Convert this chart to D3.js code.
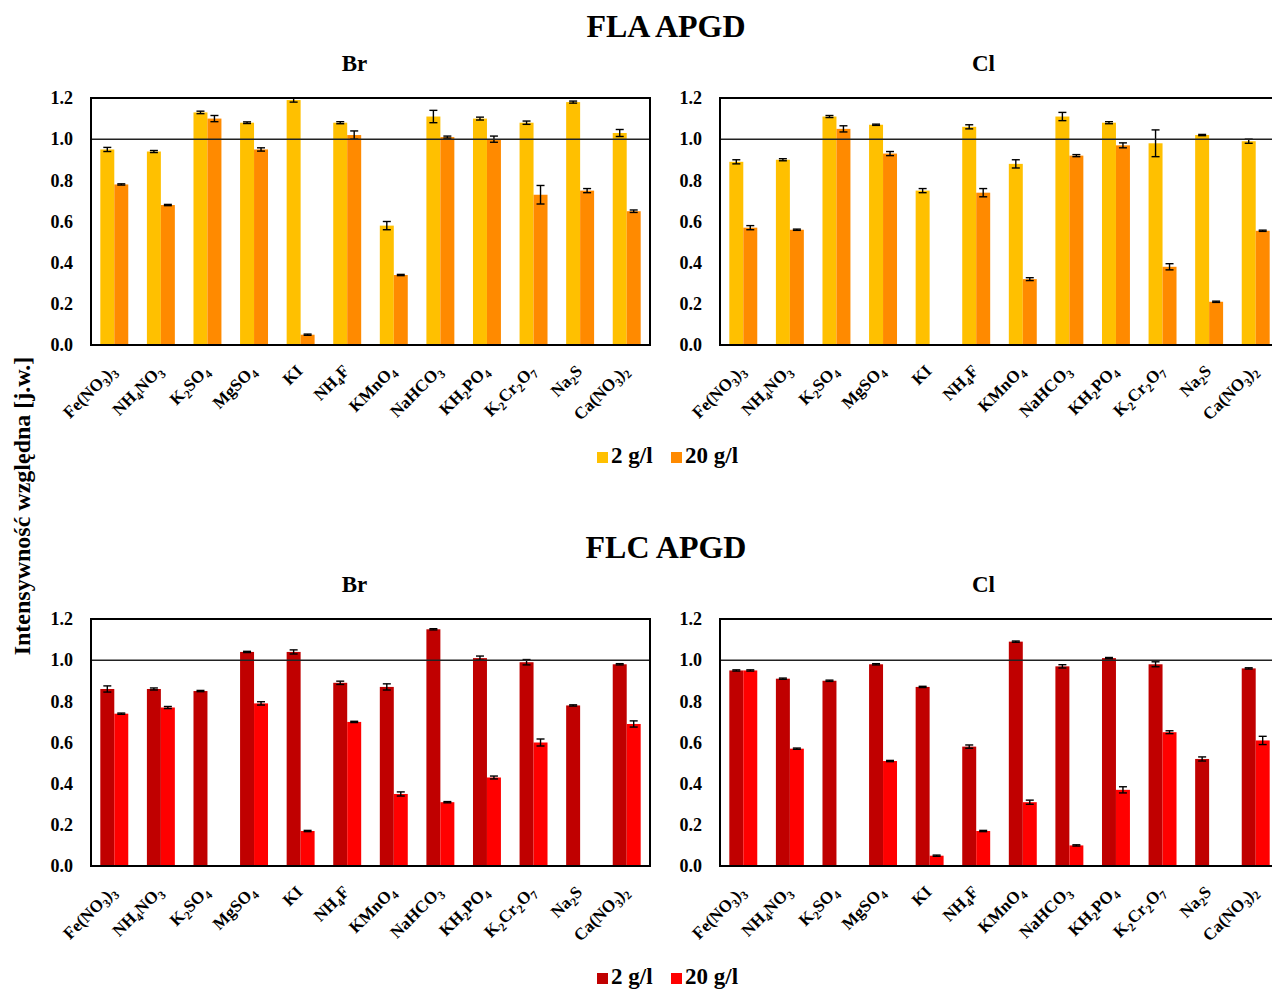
<!DOCTYPE html>
<html>
<head>
<meta charset="utf-8">
<script src="https://cdn.jsdelivr.net/npm/d3@7"></script>
<style>
  body { margin: 0; background: #fff; }
  text { font-family: "Liberation Serif", "Times New Roman", serif; font-weight: bold; fill: #000; }
</style>
</head>
<body>
<div id="chart"></div>
<script>
// chart data
var categories = ["Fe(NO3)3", "NH4NO3", "K2SO4", "MgSO4", "KI", "NH4F", "KMnO4", "NaHCO3", "KH2PO4", "K2Cr2O7", "Na2S", "Ca(NO3)2"];
var seriesNames = ["2 g/l", "20 g/l"];
var yTicks = [0, 0.2, 0.4, 0.6, 0.8, 1.0, 1.2];

// FLA APGD
var flaBr2 = [0.95, 0.94, 1.13, 1.08, 1.19, 1.08, 0.58, 1.11, 1.10, 1.08, 1.18, 1.03];
var flaBr2err = [0.01, 0.005, 0.006, 0.004, 0.01, 0.005, 0.02, 0.03, 0.007, 0.008, 0.005, 0.017];
var flaBr20 = [0.78, 0.68, 1.10, 0.95, 0.05, 1.02, 0.34, 1.01, 1.00, 0.73, 0.75, 0.65];
var flaBr20err = [0.003, 0.003, 0.015, 0.008, 0.003, 0.02, 0.003, 0.005, 0.015, 0.045, 0.01, 0.006];

var flaCl2 = [0.89, 0.90, 1.11, 1.07, 0.75, 1.06, 0.88, 1.11, 1.08, 0.98, 1.02, 0.99];
var flaCl2err = [0.01, 0.005, 0.005, 0.003, 0.01, 0.01, 0.02, 0.02, 0.005, 0.065, 0.003, 0.01];
var flaCl20 = [0.57, 0.56, 1.05, 0.93, null, 0.74, 0.32, 0.92, 0.97, 0.38, 0.21, 0.555];
var flaCl20err = [0.01, 0.003, 0.015, 0.01, null, 0.02, 0.007, 0.005, 0.012, 0.015, 0.003, 0.003];

// FLC APGD
var flcBr2 = [0.86, 0.86, 0.85, 1.04, 1.04, 0.89, 0.87, 1.15, 1.01, 0.99, 0.78, 0.98];
var flcBr2err = [0.015, 0.005, 0.003, 0.003, 0.01, 0.008, 0.015, 0.003, 0.01, 0.013, 0.003, 0.003];
var flcBr20 = [0.74, 0.77, null, 0.79, 0.17, 0.70, 0.35, 0.31, 0.43, 0.60, null, 0.69];
var flcBr20err = [0.003, 0.005, null, 0.008, 0.003, 0.003, 0.01, 0.003, 0.007, 0.017, null, 0.015];

var flcCl2 = [0.95, 0.91, 0.90, 0.98, 0.87, 0.58, 1.09, 0.97, 1.01, 0.98, 0.52, 0.96];
var flcCl2err = [0.003, 0.003, 0.003, 0.003, 0.003, 0.008, 0.003, 0.008, 0.003, 0.012, 0.01, 0.003];
var flcCl20 = [0.95, 0.57, null, 0.51, 0.05, 0.17, 0.31, 0.10, 0.37, 0.65, null, 0.61];
var flcCl20err = [0.003, 0.003, null, 0.003, 0.003, 0.003, 0.01, 0.003, 0.015, 0.007, null, 0.02];

(function(){
    var width = 1272;
    var height = 992;

    var svg = d3.select("#chart")
        .append("svg")
        .attr("width", width)
        .attr("height", height);

    var flaColors = ["#FFC000", "#FF8A00"];
    var flcColors = ["#C00000", "#FF0000"];

    var blocks = [
        { title: "FLA APGD", top: 0, colors: flaColors, panels: [
            { name: "Br", left: 91, s: [flaBr2, flaBr20], e: [flaBr2err, flaBr20err] },
            { name: "Cl", left: 720, s: [flaCl2, flaCl20], e: [flaCl2err, flaCl20err] }
        ]},
        { title: "FLC APGD", top: 521, colors: flcColors, panels: [
            { name: "Br", left: 91, s: [flcBr2, flcBr20], e: [flcBr2err, flcBr20err] },
            { name: "Cl", left: 720, s: [flcCl2, flcCl20], e: [flcCl2err, flcCl20err] }
        ]}
    ];

    var plotW = 559, plotH = 247;

    // write "K2SO4" with digits as subscripts
    function formula(text, s) {
        var shift = 0;
        s.match(/\d+|\D+/g).forEach(function(p) {
            var sub = /\d/.test(p);
            var dy = (sub ? 4 : 0) - shift;
            shift = sub ? 4 : 0;
            text.append("tspan")
                .attr("dy", dy)
                .style("font-size", sub ? "12px" : null)
                .text(p);
        });
    }

    blocks.forEach(function(b) {
        var g = svg.append("g").attr("transform", "translate(0," + b.top + ")");

        g.append("text")
            .attr("x", 666).attr("y", 37)
            .attr("text-anchor", "middle")
            .style("font-size", "32px")
            .text(b.title);

        b.panels.forEach(function(p) {
            var top = 98;
            var x = d3.scaleBand().domain(categories).range([p.left, p.left + plotW])
                .paddingInner(0.4).paddingOuter(0.2);
            var xs = d3.scaleBand().domain([0, 1]).range([0, x.bandwidth()]);
            var y = d3.scaleLinear().domain([0, 1.2]).range([top + plotH, top]);

            g.append("text")
                .attr("x", p.left + plotW / 2 - 16).attr("y", 71)
                .attr("text-anchor", "middle")
                .style("font-size", "23px")
                .text(p.name);

            // bars
            p.s.forEach(function(vals, si) {
                g.append("g").selectAll("rect")
                    .data(vals.map(function(v, i) { return { c: categories[i], v: v, e: p.e[si][i] }; })
                        .filter(function(d) { return d.v != null; }))
                    .enter().append("rect")
                    .attr("x", function(d) { return x(d.c) + xs(si); })
                    .attr("width", xs.bandwidth())
                    .attr("y", function(d) { return y(d.v); })
                    .attr("height", function(d) { return y(0) - y(d.v); })
                    .attr("fill", b.colors[si]);
            });

            // error bars
            p.s.forEach(function(vals, si) {
                var eg = g.append("g").attr("stroke", "#000").attr("stroke-width", 1.4);
                vals.forEach(function(v, i) {
                    if (v == null) return;
                    var e = p.e[si][i];
                    var cx = x(categories[i]) + xs(si) + xs.bandwidth() / 2;
                    var hi = y(v + e), lo = y(v - e);
                    eg.append("line").attr("x1", cx).attr("x2", cx).attr("y1", hi).attr("y2", lo);
                    eg.append("line").attr("x1", cx - 4).attr("x2", cx + 4).attr("y1", hi).attr("y2", hi);
                    eg.append("line").attr("x1", cx - 4).attr("x2", cx + 4).attr("y1", lo).attr("y2", lo);
                });
            });

            // reference line at 1.0
            g.append("line")
                .attr("x1", p.left).attr("x2", p.left + plotW)
                .attr("y1", y(1)).attr("y2", y(1))
                .attr("stroke", "#222").attr("stroke-width", 1.5);

            // frame
            g.append("rect")
                .attr("x", p.left).attr("y", top)
                .attr("width", plotW).attr("height", plotH)
                .attr("fill", "none")
                .attr("stroke", "#000").attr("stroke-width", 2);

            // y axis
            var ya = g.append("g")
                .attr("transform", "translate(" + p.left + ",0)")
                .call(d3.axisLeft(y).tickValues(yTicks).tickFormat(d3.format(".1f")).tickSize(0).tickPadding(18));
            ya.select(".domain").remove();
            ya.selectAll("text")
                .attr("font-family", null).attr("font-size", null)
                .style("font-size", "18px");

            // x axis
            var xa = g.append("g")
                .attr("transform", "translate(0," + (top + plotH) + ")")
                .call(d3.axisBottom(x).tickSize(0));
            xa.select(".domain").remove();
            xa.selectAll("text").each(function(d) {
                var t = d3.select(this);
                t.text(null)
                    .attr("font-family", null).attr("font-size", null)
                    .attr("y", null).attr("dy", null)
                    .attr("text-anchor", "end")
                    .attr("transform", "translate(3,27) rotate(-45)")
                    .style("font-size", "17px");
                formula(t, d);
            });
        });

        // legend
        var lg = g.append("g").attr("transform", "translate(0,463)");
        var lx = [597, 671];
        seriesNames.forEach(function(n, i) {
            lg.append("rect")
                .attr("x", lx[i]).attr("y", -11)
                .attr("width", 11).attr("height", 11)
                .attr("fill", b.colors[i]);
            lg.append("text")
                .attr("x", lx[i] + 14).attr("y", 0)
                .style("font-size", "23px")
                .text(n);
        });
    });

    svg.append("text")
        .attr("transform", "translate(30,506) rotate(-90)")
        .attr("text-anchor", "middle")
        .style("font-size", "24px")
        .text("Intensywność względna [j.w.]");
})();
</script>
</body>
</html>
